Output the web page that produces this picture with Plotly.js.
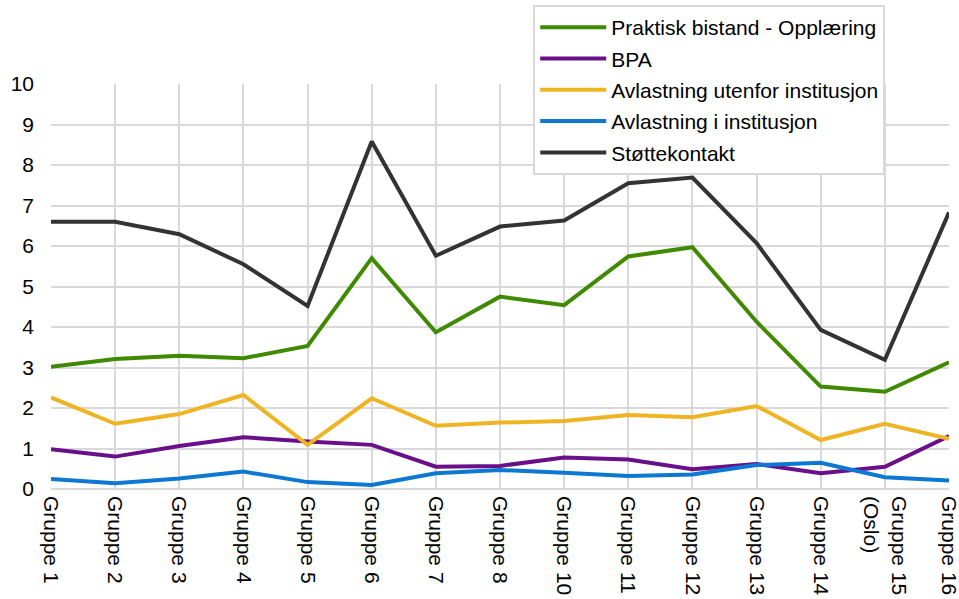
<!DOCTYPE html>
<html>
<head>
<meta charset="utf-8">
<script src="https://cdn.plot.ly/plotly-3.0.1.min.js"></script>
<style>
  html, body { margin: 0; padding: 0; background: #ffffff; }
  #chart { width: 959px; height: 599px; }
</style>
</head>
<body>
<div id="chart"></div>
<script>
// Group labels along the x axis
const groups = [
  "Gruppe 1", "Gruppe 2", "Gruppe 3", "Gruppe 4", "Gruppe 5", "Gruppe 6",
  "Gruppe 7", "Gruppe 8", "Gruppe 10", "Gruppe 11", "Gruppe 12", "Gruppe 13",
  "Gruppe 14", "Gruppe 15<br>(Oslo)", "Gruppe 16"
];

// Series values per group
const praktiskBistand = [3.02, 3.21, 3.29, 3.23, 3.53, 5.70, 3.87, 4.75, 4.54, 5.74, 5.97, 4.13, 2.53, 2.40, 3.13];
const bpa             = [0.98, 0.80, 1.06, 1.28, 1.17, 1.09, 0.55, 0.57, 0.78, 0.73, 0.49, 0.62, 0.39, 0.55, 1.31];
const avlastningUtenfor = [2.26, 1.61, 1.85, 2.32, 1.09, 2.24, 1.56, 1.64, 1.68, 1.83, 1.77, 2.05, 1.21, 1.61, 1.24];
const avlastningI     = [0.25, 0.14, 0.26, 0.43, 0.17, 0.10, 0.39, 0.47, 0.40, 0.32, 0.36, 0.59, 0.65, 0.29, 0.21];
const stottekontakt   = [6.60, 6.60, 6.29, 5.55, 4.52, 8.58, 5.76, 6.48, 6.63, 7.55, 7.69, 6.07, 3.93, 3.19, 6.83];

const seriesNames = [
  "Praktisk bistand - Opplæring",
  "BPA",
  "Avlastning utenfor institusjon",
  "Avlastning i institusjon",
  "Støttekontakt"
];
const seriesValues = [praktiskBistand, bpa, avlastningUtenfor, avlastningI, stottekontakt];
const seriesColors = ["#3f8a00", "#6a0f8a", "#efb424", "#0c78d2", "#333333"];

const baseFont = "Liberation Sans, Arial, sans-serif";

const traces = seriesValues.map((vals, i) => ({
  type: "scatter",
  mode: "lines",
  name: seriesNames[i],
  legendgroup: "g" + i,
  x: groups,
  y: vals,
  line: { color: seriesColors[i], width: 4 },
  hoverinfo: "x+y+name"
}));

const layout = {
  width: 959,
  height: 599,
  margin: { l: 51, r: 10, t: 84, b: 110, autoexpand: false },
  paper_bgcolor: "#ffffff",
  plot_bgcolor: "#ffffff",
  font: { family: baseFont, size: 21, color: "#000000" },
  showlegend: true,
  legend: {
    x: 0.537, y: 1.195, xanchor: "left", yanchor: "top",
    bgcolor: "#ffffff",
    bordercolor: "#d9d9d9",
    borderwidth: 2,
    traceorder: "grouped",
    tracegroupgap: 1,
    itemwidth: 66,
    font: { family: baseFont, size: 21, color: "#000000" }
  },
  xaxis: {
    type: "category",
    range: [0, groups.length - 1],
    automargin: false,
    showgrid: true,
    gridcolor: "#d9d9d9",
    gridwidth: 2,
    showline: false,
    zeroline: false,
    tickangle: 90,
    ticks: "",
    ticklabelstandoff: 6,
    tickfont: { size: 21 }
  },
  yaxis: {
    range: [0, 10],
    dtick: 1,
    automargin: false,
    showgrid: true,
    gridcolor: "#d9d9d9",
    gridwidth: 2,
    zeroline: true,
    zerolinecolor: "#d9d9d9",
    zerolinewidth: 2,
    showline: false,
    ticks: "",
    ticklabelstandoff: 16,
    tickfont: { size: 21 }
  }
};

Plotly.newPlot("chart", traces, layout, { displayModeBar: false, staticPlot: true });
</script>
</body>
</html>
